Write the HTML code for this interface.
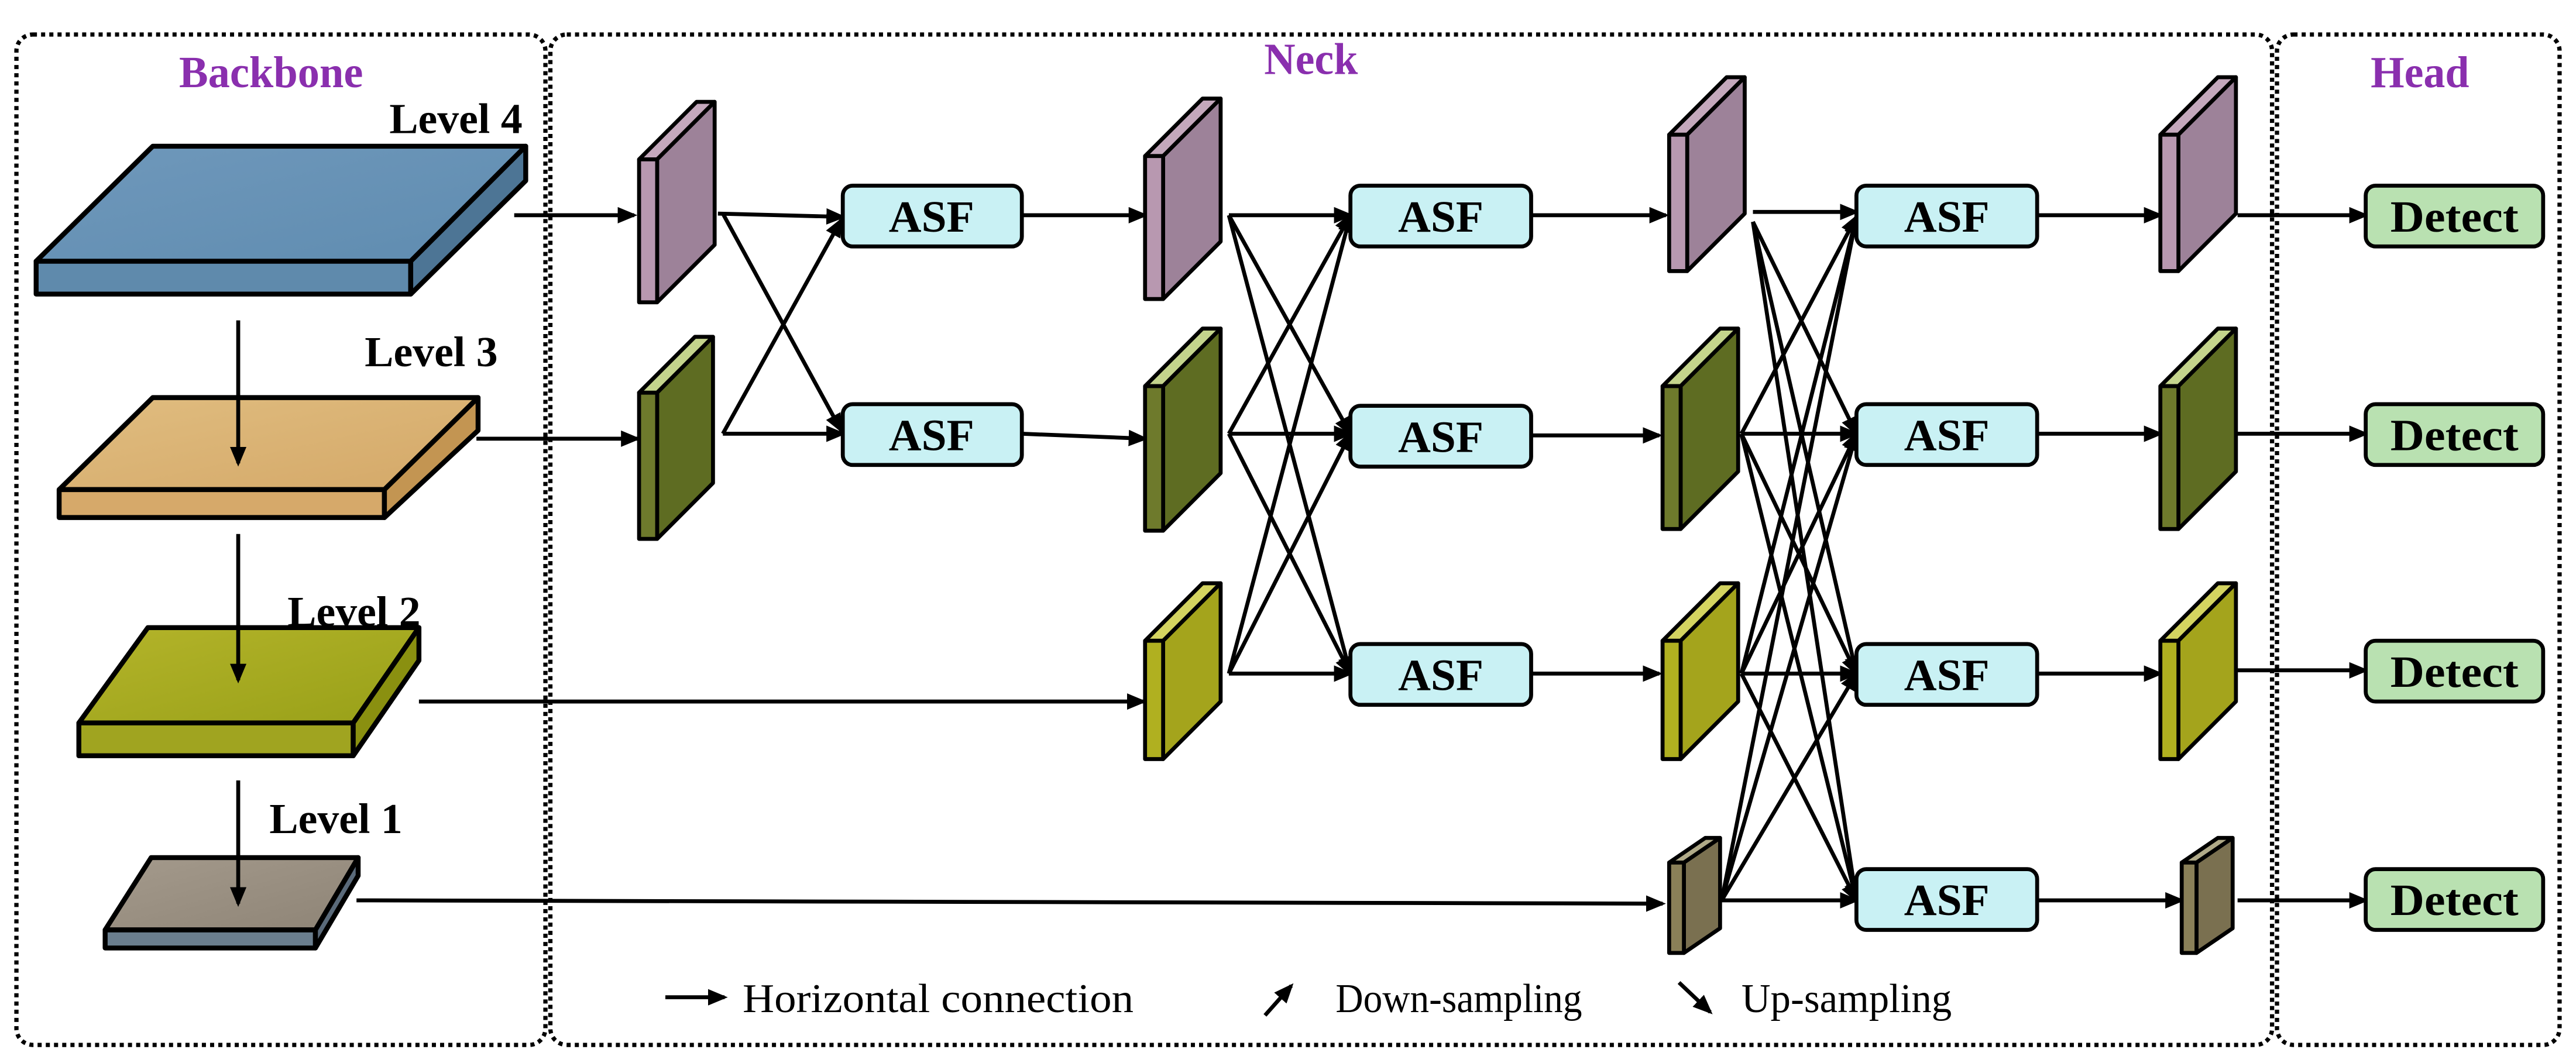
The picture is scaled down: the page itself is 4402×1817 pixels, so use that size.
<!DOCTYPE html>
<html><head><meta charset="utf-8"><style>
html,body{margin:0;padding:0;background:#fff;}
svg{display:block;}
text{font-family:"Liberation Serif",serif;}
</style></head><body>
<svg width="4402" height="1817" viewBox="0 0 1568 647" preserveAspectRatio="none" xmlns="http://www.w3.org/2000/svg">
<defs>
<marker id="a" markerWidth="12" markerHeight="10" refX="10" refY="5" orient="auto" markerUnits="userSpaceOnUse"><path d="M0,0 L12,5 L0,10 z" fill="#000"/></marker>
<linearGradient id="blue" x1="0" y1="0" x2="1" y2="1"><stop offset="0" stop-color="#6f98bb"/><stop offset="1" stop-color="#5f8cb0"/></linearGradient>
<linearGradient id="tan" x1="0" y1="0" x2="1" y2="1"><stop offset="0" stop-color="#e0bd80"/><stop offset="1" stop-color="#d4a868"/></linearGradient>
<linearGradient id="yel" x1="0" y1="0" x2="1" y2="1"><stop offset="0" stop-color="#b4b42a"/><stop offset="1" stop-color="#98a018"/></linearGradient>
<linearGradient id="grv" x1="0" y1="0" x2="1" y2="1"><stop offset="0" stop-color="#a49a8c"/><stop offset="1" stop-color="#8e8476"/></linearGradient>
</defs>

<g fill="none" stroke="#000" stroke-width="2.6" stroke-dasharray="2.5,2.5">
<rect x="10" y="21" width="322" height="615" rx="10"/>
<rect x="335" y="21" width="1048" height="615" rx="10"/>
<rect x="1386" y="21" width="172" height="615" rx="10"/>
</g>
<g font-weight="bold" fill="#8a2fae" text-anchor="middle">
<text x="165" y="53" font-size="27" textLength="112" lengthAdjust="spacingAndGlyphs">Backbone</text>
<text x="798" y="45" font-size="27" textLength="57" lengthAdjust="spacingAndGlyphs">Neck</text>
<text x="1473" y="53" font-size="27" textLength="60" lengthAdjust="spacingAndGlyphs">Head</text>
</g>

<g stroke="#000" stroke-width="3" stroke-linejoin="round">
<polygon points="93,89 320,89 250,159 22,159" fill="url(#blue)"/>
<polygon points="22,159 250,159 250,179 22,179" fill="#5f8aac"/>
<polygon points="250,159 320,89 320,110 250,179" fill="#4d7595"/>
<polygon points="93,242 291,242 234,298 36,298" fill="url(#tan)"/>
<polygon points="36,298 234,298 234,315 36,315" fill="#d6a96a"/>
<polygon points="234,298 291,242 291,262 234,315" fill="#c39552"/>
<polygon points="90,382 255,382 215,440 48,440" fill="url(#yel)"/>
<polygon points="48,440 215,440 215,460 48,460" fill="#a0a420"/>
<polygon points="215,440 255,382 255,402 215,460" fill="#8a9010"/>
<polygon points="92,522 218,522 192,566 64,566" fill="url(#grv)"/>
<polygon points="64,566 192,566 192,577 64,577" fill="#6a7e8e"/>
<polygon points="192,566 218,522 218,533 192,577" fill="#5a6a7a"/>
</g>
<g font-weight="bold" font-size="26" text-anchor="end" fill="#000">
<text x="318" y="81" textLength="81" lengthAdjust="spacingAndGlyphs">Level 4</text>
<text x="303" y="223" textLength="81" lengthAdjust="spacingAndGlyphs">Level 3</text>
<text x="256" y="381" textLength="81" lengthAdjust="spacingAndGlyphs">Level 2</text>
<text x="245" y="507" textLength="81" lengthAdjust="spacingAndGlyphs">Level 1</text>
</g>

<g stroke="#000" stroke-width="2.4" fill="none" marker-end="url(#a)">
<line x1="145" y1="195" x2="145" y2="282"/>
<line x1="145" y1="325" x2="145" y2="414"/>
<line x1="145" y1="475" x2="145" y2="550"/>
<line x1="313" y1="131" x2="386" y2="131"/>
<line x1="290" y1="267" x2="388" y2="267"/>
<line x1="255" y1="427" x2="696" y2="427"/>
<line x1="217" y1="548" x2="1012" y2="550"/>
<line x1="437" y1="130" x2="513" y2="132"/>
<line x1="440" y1="130" x2="512" y2="262"/>
<line x1="440" y1="264" x2="513" y2="264"/>
<line x1="440" y1="264" x2="512" y2="134"/>
<line x1="622" y1="131" x2="697" y2="131"/>
<line x1="622" y1="264" x2="697" y2="267"/>
<line x1="748" y1="131" x2="822" y2="131"/>
<line x1="748" y1="131" x2="822" y2="264"/>
<line x1="748" y1="131" x2="822" y2="410"/>
<line x1="748" y1="264" x2="822" y2="131"/>
<line x1="748" y1="264" x2="822" y2="264"/>
<line x1="748" y1="264" x2="822" y2="410"/>
<line x1="748" y1="410" x2="822" y2="131"/>
<line x1="748" y1="410" x2="822" y2="264"/>
<line x1="748" y1="410" x2="822" y2="410"/>
<line x1="932" y1="131" x2="1014" y2="131"/>
<line x1="932" y1="265" x2="1010" y2="265"/>
<line x1="932" y1="410" x2="1010" y2="410"/>
<line x1="1067" y1="129" x2="1130" y2="129"/>
<line x1="1067" y1="135" x2="1130" y2="264"/>
<line x1="1067" y1="135" x2="1130" y2="410"/>
<line x1="1067" y1="135" x2="1130" y2="548"/>
<line x1="1060" y1="264" x2="1130" y2="132"/>
<line x1="1060" y1="264" x2="1130" y2="264"/>
<line x1="1060" y1="264" x2="1130" y2="410"/>
<line x1="1060" y1="264" x2="1130" y2="548"/>
<line x1="1060" y1="410" x2="1130" y2="132"/>
<line x1="1060" y1="410" x2="1130" y2="264"/>
<line x1="1060" y1="410" x2="1130" y2="410"/>
<line x1="1060" y1="410" x2="1130" y2="548"/>
<line x1="1048" y1="548" x2="1130" y2="132"/>
<line x1="1048" y1="548" x2="1130" y2="264"/>
<line x1="1048" y1="548" x2="1130" y2="410"/>
<line x1="1048" y1="548" x2="1130" y2="548"/>
<line x1="1240" y1="131" x2="1315" y2="131"/>
<line x1="1240" y1="264" x2="1315" y2="264"/>
<line x1="1240" y1="410" x2="1315" y2="410"/>
<line x1="1240" y1="548" x2="1328" y2="548"/>
<line x1="1362" y1="131" x2="1440" y2="131"/>
<line x1="1362" y1="264" x2="1440" y2="264"/>
<line x1="1362" y1="408" x2="1440" y2="408"/>
<line x1="1362" y1="548" x2="1440" y2="548"/>
<line x1="405" y1="607" x2="441" y2="607"/>
<line x1="770" y1="618" x2="786" y2="600"/>
<line x1="1022" y1="598" x2="1041" y2="616"/>
</g>

<g stroke="#000" stroke-width="2.4" stroke-linejoin="round">
<g><polygon points="389,97 424,62 435,62 400,97" fill="#c4a8bc"/><polygon points="400,97 435,62 435,149 400,184" fill="#9d8299"/><polygon points="389,97 400,97 400,184 389,184" fill="#b898b0"/></g>
<g><polygon points="389,239 423,205 434,205 400,239" fill="#c4d48c"/><polygon points="400,239 434,205 434,294 400,328" fill="#5e6c22"/><polygon points="389,239 400,239 400,328 389,328" fill="#6e7a2c"/></g>
<g><polygon points="697,95 732,60 743,60 708,95" fill="#c4a8bc"/><polygon points="708,95 743,60 743,147 708,182" fill="#9d8299"/><polygon points="697,95 708,95 708,182 697,182" fill="#b898b0"/></g>
<g><polygon points="697,235 732,200 743,200 708,235" fill="#c4d48c"/><polygon points="708,235 743,200 743,288 708,323" fill="#5e6c22"/><polygon points="697,235 708,235 708,323 697,323" fill="#6e7a2c"/></g>
<g><polygon points="697,390 732,355 743,355 708,390" fill="#d4d460"/><polygon points="708,390 743,355 743,427 708,462" fill="#a4a41c"/><polygon points="697,390 708,390 708,462 697,462" fill="#b0b020"/></g>
<g><polygon points="1016,82 1051,47 1062,47 1027,82" fill="#c4a8bc"/><polygon points="1027,82 1062,47 1062,130 1027,165" fill="#9d8299"/><polygon points="1016,82 1027,82 1027,165 1016,165" fill="#b898b0"/></g>
<g><polygon points="1012,235 1047,200 1058,200 1023,235" fill="#c4d48c"/><polygon points="1023,235 1058,200 1058,287 1023,322" fill="#5e6c22"/><polygon points="1012,235 1023,235 1023,322 1012,322" fill="#6e7a2c"/></g>
<g><polygon points="1012,390 1047,355 1058,355 1023,390" fill="#d4d460"/><polygon points="1023,390 1058,355 1058,427 1023,462" fill="#a4a41c"/><polygon points="1012,390 1023,390 1023,462 1012,462" fill="#b0b020"/></g>
<g><polygon points="1016,525 1038,510 1047,510 1025,525" fill="#b0aa88"/><polygon points="1025,525 1047,510 1047,565 1025,580" fill="#7a7050"/><polygon points="1016,525 1025,525 1025,580 1016,580" fill="#8a8058"/></g>
<g><polygon points="1315,82 1350,47 1361,47 1326,82" fill="#c4a8bc"/><polygon points="1326,82 1361,47 1361,130 1326,165" fill="#9d8299"/><polygon points="1315,82 1326,82 1326,165 1315,165" fill="#b898b0"/></g>
<g><polygon points="1315,235 1350,200 1361,200 1326,235" fill="#c4d48c"/><polygon points="1326,235 1361,200 1361,287 1326,322" fill="#5e6c22"/><polygon points="1315,235 1326,235 1326,322 1315,322" fill="#6e7a2c"/></g>
<g><polygon points="1315,390 1350,355 1361,355 1326,390" fill="#d4d460"/><polygon points="1326,390 1361,355 1361,427 1326,462" fill="#a4a41c"/><polygon points="1315,390 1326,390 1326,462 1315,462" fill="#b0b020"/></g>
<g><polygon points="1328,525 1350,510 1359,510 1337,525" fill="#b0aa88"/><polygon points="1337,525 1359,510 1359,565 1337,580" fill="#7a7050"/><polygon points="1328,525 1337,525 1337,580 1328,580" fill="#8a8058"/></g>
</g>

<g fill="#c9f1f4" stroke="#000" stroke-width="2.4">
<rect x="513" y="113" width="109" height="37" rx="6"/>
<rect x="513" y="246" width="109" height="37" rx="6"/>
<rect x="822" y="113" width="110" height="37" rx="6"/>
<rect x="822" y="247" width="110" height="37" rx="6"/>
<rect x="822" y="392" width="110" height="37" rx="6"/>
<rect x="1130" y="113" width="110" height="37" rx="6"/>
<rect x="1130" y="246" width="110" height="37" rx="6"/>
<rect x="1130" y="392" width="110" height="37" rx="6"/>
<rect x="1130" y="529" width="110" height="37" rx="6"/>
</g>
<g fill="#b9e1b1" stroke="#000" stroke-width="2.4">
<rect x="1440" y="113" width="108" height="37" rx="6"/>
<rect x="1440" y="246" width="108" height="37" rx="6"/>
<rect x="1440" y="390" width="108" height="37" rx="6"/>
<rect x="1440" y="529" width="108" height="37" rx="6"/>
</g>
<g font-weight="bold" font-size="27" text-anchor="middle" fill="#000">
<text x="567" y="141" textLength="52" lengthAdjust="spacingAndGlyphs">ASF</text>
<text x="567" y="274" textLength="52" lengthAdjust="spacingAndGlyphs">ASF</text>
<text x="877" y="141" textLength="52" lengthAdjust="spacingAndGlyphs">ASF</text>
<text x="877" y="275" textLength="52" lengthAdjust="spacingAndGlyphs">ASF</text>
<text x="877" y="420" textLength="52" lengthAdjust="spacingAndGlyphs">ASF</text>
<text x="1185" y="141" textLength="52" lengthAdjust="spacingAndGlyphs">ASF</text>
<text x="1185" y="274" textLength="52" lengthAdjust="spacingAndGlyphs">ASF</text>
<text x="1185" y="420" textLength="52" lengthAdjust="spacingAndGlyphs">ASF</text>
<text x="1185" y="557" textLength="52" lengthAdjust="spacingAndGlyphs">ASF</text>
<text x="1494" y="141" textLength="78" lengthAdjust="spacingAndGlyphs">Detect</text>
<text x="1494" y="274" textLength="78" lengthAdjust="spacingAndGlyphs">Detect</text>
<text x="1494" y="418" textLength="78" lengthAdjust="spacingAndGlyphs">Detect</text>
<text x="1494" y="557" textLength="78" lengthAdjust="spacingAndGlyphs">Detect</text>
</g>
<g font-size="25" fill="#000">
<text x="452" y="616" textLength="238" lengthAdjust="spacingAndGlyphs">Horizontal connection</text>
<text x="813" y="616" textLength="150" lengthAdjust="spacingAndGlyphs">Down-sampling</text>
<text x="1060" y="616" textLength="128" lengthAdjust="spacingAndGlyphs">Up-sampling</text>
</g>
</svg>
</body></html>
